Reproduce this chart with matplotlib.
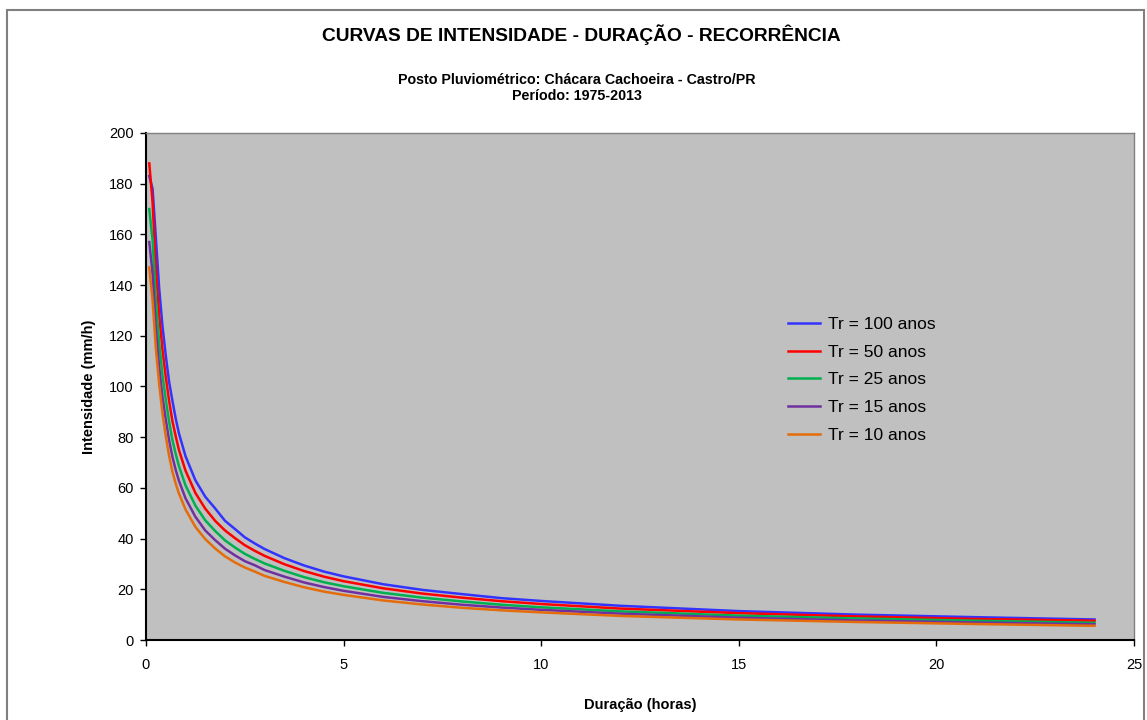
import numpy as np
import matplotlib
matplotlib.use("Agg")
from matplotlib import pyplot as plt
from matplotlib.patches import Rectangle

plt.rcParams['font.family'] = ['Liberation Sans', 'DejaVu Sans']

# durations in minutes, plotted in hours
dur_min = [5, 10, 15, 20, 25, 30, 35, 40, 45, 50, 60, 75, 90, 105, 120, 135, 150,
           165, 180, 210, 240, 270, 300, 360, 420, 480, 540, 600, 720, 900, 1080,
           1260, 1440]
dur_h = [m / 60 for m in dur_min]

# intensity (mm/h) for each return period
tr100 = [183, 178, 158.5, 138.7, 123.9, 112.3, 102.0, 94.5, 87.5, 81.5, 72.5, 63.0,
         56.5, 51.9, 47.0, 43.8, 40.5, 38.1, 35.9, 32.3, 29.4, 27.0, 25.1, 22.0,
         19.75, 18.1, 16.5, 15.4, 13.5, 11.4, 10.0, 9.0, 8.1]
tr50 = [188, 172.6, 146.6, 128.3, 114.6, 103.9, 94.5, 86.5, 80.5, 75.0, 66.8, 58.0,
        51.8, 47.0, 43.2, 40.2, 37.4, 35.2, 33.2, 29.9, 27.2, 25.0, 23.2, 20.4,
        18.3, 16.7, 15.3, 14.2, 12.4, 10.6, 9.3, 8.3, 7.6]
tr25 = [170, 157.7, 133.9, 117.2, 104.7, 94.9, 86.3, 79.0, 73.5, 68.6, 61.0, 53.0,
        47.2, 43.0, 39.3, 36.5, 34.0, 32.0, 30.2, 27.3, 24.8, 22.8, 21.2, 18.6,
        16.7, 15.2, 13.9, 12.9, 11.3, 9.6, 8.5, 7.6, 6.8]
tr15 = [157, 144.6, 122.8, 107.5, 96.0, 87.0, 79.0, 72.4, 67.2, 62.8, 55.9, 48.6,
        43.2, 39.4, 36.0, 33.4, 31.1, 29.5, 27.6, 25.0, 22.7, 20.9, 19.4, 17.0,
        15.3, 13.9, 12.8, 11.9, 10.4, 8.8, 7.7, 6.9, 6.2]
tr10 = [147, 134, 115, 101, 89.5, 80.5, 72.8, 66.5, 61.8, 57.8, 51.5, 44.6,
        39.8, 36.1, 33.0, 30.6, 28.6, 27.0, 25.3, 22.9, 20.8, 19.1, 17.8, 15.6,
        14.0, 12.7, 11.7, 10.9, 9.5, 8.1, 7.1, 6.3, 5.6]

labels = ["Tr = 100 anos", "Tr = 50 anos", "Tr = 25 anos", "Tr = 15 anos", "Tr = 10 anos"]
colors = ["#3333FF", "#FF0000", "#00B050", "#7030A0", "#E46C0A"]

fig = plt.figure(figsize=(11.47, 7.2), dpi=100)
fig.add_artist(Rectangle((7 / 1147, -0.01), 1137 / 1147, 0.996, transform=fig.transFigure,
                         fill=False, edgecolor="#808080", linewidth=1.5))

ax = fig.add_axes([146 / 1147, 1 - 640 / 720, 988 / 1147, 507 / 720])
ax.set_facecolor("#C0C0C0")

for serie, lab, c in zip([tr100, tr50, tr25, tr15, tr10], labels, colors):
    ax.plot(dur_h, serie, color=c, linewidth=1.8, label=lab)

ax.set_xlim(0, 25)
ax.set_ylim(0, 200)
ax.set_xticks(range(0, 26, 5))
ax.set_yticks(range(0, 201, 20))
ax.tick_params(direction="out", length=4, width=1, labelsize=10.5, pad=5)
ax.tick_params(axis="x", pad=9)
for s in ["left", "bottom"]:
    ax.spines[s].set_linewidth(1.5)
    ax.spines[s].set_color("black")
for s in ["top", "right"]:
    ax.spines[s].set_linewidth(1.0)
    ax.spines[s].set_color("#808080")

ax.set_xlabel("Duração (horas)", fontsize=10.5, fontweight="bold", labelpad=19)
ax.set_ylabel("Intensidade (mm/h)", fontsize=10.5, fontweight="bold", labelpad=9)

fig.text(0.507, 1 - 35 / 720, "CURVAS DE INTENSIDADE - DURAÇÃO - RECORRÊNCIA",
         ha="center", va="center", fontsize=13.8, fontweight="bold")
fig.text(0.503, 1 - 88 / 720, "Posto Pluviométrico: Chácara Cachoeira - Castro/PR\nPeríodo: 1975-2013",
         ha="center", va="center", fontsize=10.3, fontweight="bold", linespacing=1.1)

ax.legend(loc="center left", bbox_to_anchor=(0.65, 0.513), frameon=False,
          fontsize=12.5, handlelength=1.85, handletextpad=0.45, labelspacing=0.72,
          borderpad=0, borderaxespad=0)

fig.savefig("out.png", dpi=100)
